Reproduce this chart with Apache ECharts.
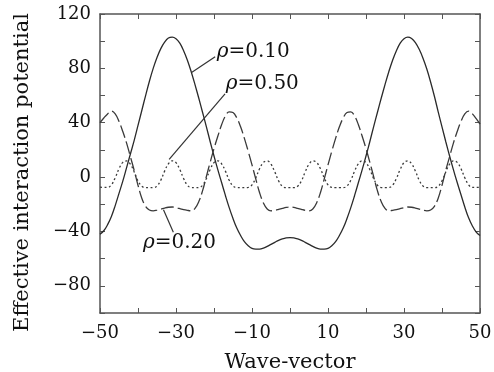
<!DOCTYPE html>
<html>
<head>
<meta charset="utf-8">
<script src="https://cdn.jsdelivr.net/npm/echarts@6/dist/echarts.min.js"></script>
<style>
html,body{margin:0;padding:0;background:#fff;}
#c{width:494px;height:372px;}
</style>
</head>
<body>
<div id="c"></div>
<script>
// Wave-vector sample positions
const waveVector = [-50,-49,-48,-47,-46,-45,-44,-43,-42,-41,-40,-39,-38,-37,-36,-35,-34,-33,-32,-31,-30,-29,-28,-27,-26,-25,-24,-23,-22,-21,-20,-19,-18,-17,-16,-15,-14,-13,-12,-11,-10,-9,-8,-7,-6,-5,-4,-3,-2,-1,0,1,2,3,4,5,6,7,8,9,10,11,12,13,14,15,16,17,18,19,20,21,22,23,24,25,26,27,28,29,30,31,32,33,34,35,36,37,38,39,40,41,42,43,44,45,46,47,48,49,50];

// rho = 0.10 (solid)
const rho010 = [-42,-39.5,-35,-29,-21,-12,-3,7,17,27,38,49,60,70.5,80,88,94.5,99.3,102.3,103,101.8,98.5,93,86,77.5,68,58,47.5,37,26,15.5,5.5,-4,-13.5,-22.5,-30.5,-37.5,-43,-47.5,-50.5,-52.5,-53,-53,-52.3,-51,-49.5,-48,-46.5,-45.5,-44.8,-44.5,-44.8,-45.5,-46.5,-48,-49.5,-51,-52.3,-53,-53,-52.5,-50.5,-47.5,-43,-37.5,-30.5,-22.5,-13.5,-4,5.5,15.5,26,37,47.5,58,68,77.5,86,93,98.5,101.8,103,102,99,94,87.5,79.5,70,59.5,48,37,26,15.5,5.5,-4,-13,-22,-30,-36,-40.5,-43];

// rho = 0.20 (dashed)
const rho020 = [40,43.5,46.5,48.5,46.5,41,33.5,25,15,5,-6,-15.5,-21.5,-24.2,-24.8,-24.3,-23.6,-22.8,-22.2,-22,-22.5,-23.2,-24,-24.5,-24.8,-23,-18,-10,0.5,11,21,30,38.5,45,48,47.5,43.5,37,28.5,19,9,-1.5,-11.5,-19,-23.5,-24.8,-24.5,-23.8,-23,-22.3,-22,-22.3,-23,-23.8,-24.5,-24.8,-23.5,-19,-11.5,-1.5,9,19,28.5,37,43.5,47.5,48,45,38.5,30,21,11,0.5,-10,-18,-23,-24.8,-24.5,-24,-23.2,-22.5,-22,-22.2,-22.8,-23.6,-24.3,-24.8,-24.2,-21.5,-15.5,-6,5,15,25,33.5,41,46.5,48.5,46.5,43,39];

// rho = 0.50 (dotted)
const rho050 = [-7.4,-7.6,-7.6,-5.7,-0.5,6.2,10.8,11.9,9.5,3.8,-2.8,-6.8,-7.8,-7.8,-7.8,-6.6,-2.3,4.4,9.8,12,10.6,5.6,-1,-6,-7.7,-7.8,-7.7,-6,-1,5.6,10.6,12,9.8,4.4,-2.3,-6.6,-7.8,-7.8,-7.8,-7.6,-5.7,-0.5,6.2,10.8,11.9,9.5,3.8,-2.8,-6.8,-7.8,-7.8,-7.8,-6.8,-2.8,3.8,9.5,11.9,10.8,6.2,-0.5,-5.7,-7.6,-7.8,-7.8,-7.8,-6.6,-2.3,4.4,9.8,12,10.6,5.6,-1,-6,-7.7,-7.8,-7.7,-6,-1,5.6,10.6,12,9.8,4.4,-2.3,-6.6,-7.8,-7.8,-7.8,-6.8,-2.8,3.8,9.5,11.9,10.8,6.2,-0.5,-5.7,-7.6,-7.6,-7.5];

// Axis settings / tick label values
const xMin = -50, xMax = 50, xStep = 10;
const yMin = -100, yMax = 120, yStep = 20;
const xTickLabels = [-50,-30,-10,10,30,50];
const yTickLabels = [-80,-40,0,40,80,120];

// Annotation labels (text, leader start [x,y], leader end [x,y], text anchor [x,y])
const annText = ['0.10','0.50','0.20'];
const annFrom = [[-25.9,77],[-31.8,13],[-33.3,-24]];
const annTo = [[-19.7,88.5],[-17.1,61.3],[-30.7,-40.5]];
const annTextAt = [[-19.3,92.5],[-16.9,69],[-38.7,-48.5]];

const FONT = '"DejaVu Serif", serif';
const TXT = '#111';
const AX = '#555';

function zip(xs, ys){ return xs.map((x,i)=>[x, ys[i]]); }
const minus = s => String(s).replace('-', '\u2212');

const chart = echarts.init(document.getElementById('c'), null, {renderer:'canvas'});

const axisCommon = {
  axisLine:{show:true, onZero:false, lineStyle:{color:AX, width:1.5}},
  axisTick:{show:true, inside:true, length:5, lineStyle:{color:AX, width:1}},
  splitLine:{show:false}
};

const option = {
  animation:false,
  backgroundColor:'#fff',
  grid:{left:100, right:14, top:14, bottom:59, containLabel:false, outerBoundsMode:'none'},
  xAxis:[
    Object.assign({type:'value', min:xMin, max:xMax, interval:xStep, position:'bottom',
      name:'Wave-vector', nameLocation:'middle', nameGap:39,
      nameTextStyle:{fontFamily:FONT, fontSize:21, color:TXT},
      axisLabel:{margin:11, fontFamily:FONT, fontSize:18, color:TXT,
        formatter:v=> xTickLabels.indexOf(v)>=0 ? minus(v) : ''}}, axisCommon),
    Object.assign({type:'value', min:xMin, max:xMax, interval:xStep, position:'top',
      axisLabel:{show:false}}, axisCommon)
  ],
  yAxis:[
    Object.assign({type:'value', min:yMin, max:yMax, interval:yStep, position:'left',
      name:'Effective interaction potential', nameLocation:'middle', nameGap:67,
      nameTextStyle:{fontFamily:FONT, fontSize:21, color:TXT, padding:[0,18,0,0]},
      axisLabel:{margin:9, fontFamily:FONT, fontSize:18, color:TXT,
        formatter:v=> yTickLabels.indexOf(v)>=0 ? minus(v) : ''}}, axisCommon),
    Object.assign({type:'value', min:yMin, max:yMax, interval:yStep, position:'right',
      axisLabel:{show:false}}, axisCommon)
  ],
  series:[
    {type:'line', name:'0.10', data:zip(waveVector, rho010), showSymbol:false, smooth:0.4,
      lineStyle:{color:'#2a2a2a', width:1.3, type:'solid'}},
    {type:'line', name:'0.20', data:zip(waveVector, rho020), showSymbol:false, smooth:0.4,
      lineStyle:{color:'#3a3a3a', width:1.3, type:[13,4]}},
    {type:'line', name:'0.50', data:zip(waveVector, rho050), showSymbol:false, smooth:0.4,
      lineStyle:{color:'#3a3a3a', width:1.3, type:[2,2.5]}}
  ]
};
chart.setOption(option);

const g = [];
for (let i=0;i<annText.length;i++){
  const p1 = chart.convertToPixel({gridIndex:0}, annFrom[i]);
  const p2 = chart.convertToPixel({gridIndex:0}, annTo[i]);
  const pt = chart.convertToPixel({gridIndex:0}, annTextAt[i]);
  g.push({type:'line', shape:{x1:p1[0],y1:p1[1],x2:p2[0],y2:p2[1]},
    style:{stroke:'#333', lineWidth:1.2}, z:10});
  g.push({type:'text', x:pt[0], y:pt[1], z:10,
    style:{text:'{i|\u03C1}{n|=' + annText[i] + '}', align:'left', verticalAlign:'middle',
      rich:{i:{fontFamily:FONT, fontStyle:'italic', fontSize:20, fill:TXT},
            n:{fontFamily:FONT, fontSize:20, fill:TXT}}}});
}
chart.setOption({graphic:g});
</script>
</body>
</html>
